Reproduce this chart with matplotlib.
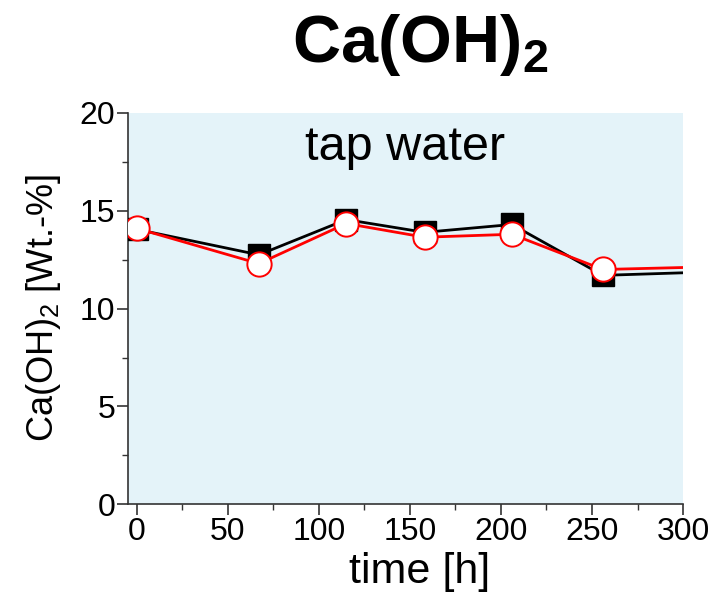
import numpy as np
import matplotlib
matplotlib.use("Agg")
import matplotlib.pyplot as plt
from matplotlib.ticker import MultipleLocator

plt.rcParams['font.family'] = ['Liberation Sans', 'DejaVu Sans']
plt.rcParams['mathtext.fontset'] = 'custom'
plt.rcParams['mathtext.rm'] = 'Liberation Sans'
plt.rcParams['mathtext.it'] = 'Liberation Sans:italic'
plt.rcParams['mathtext.bf'] = 'Liberation Sans:bold'

## data (last point lies outside the x range)
time_h = [0, 67, 115, 158, 206, 256, 330]
caoh2_black = [14.05, 12.75, 14.55, 13.9, 14.3, 11.7, 11.92]
caoh2_red = [14.1, 12.3, 14.35, 13.65, 13.8, 12.0, 12.17]

fig = plt.figure(figsize=(7.1, 6.01), dpi=100)
ax = fig.add_axes([0.180, 0.161, 0.782, 0.651])
ax.set_facecolor('#e4f3f9')

ax.plot(time_h, caoh2_black, color='black', lw=2, marker='s', ms=16.5,
        mfc='black', mec='black', zorder=3)
ax.plot(time_h, caoh2_red, color='red', lw=2, marker='o', ms=17.5,
        mfc='white', mec='red', mew=1.4, zorder=4)

ax.set_xlim(-5, 300)
ax.set_ylim(0, 20)
ax.xaxis.set_major_locator(MultipleLocator(50))
ax.xaxis.set_minor_locator(MultipleLocator(25))
ax.yaxis.set_major_locator(MultipleLocator(5))
ax.yaxis.set_minor_locator(MultipleLocator(2.5))

for s in ['top', 'right']:
    ax.spines[s].set_visible(False)
for s in ['left', 'bottom']:
    ax.spines[s].set_color('#333333')
    ax.spines[s].set_linewidth(1.2)

ax.tick_params(which='major', direction='out', length=8, width=1.2, color='#333333',
               labelsize=23, pad=1)
ax.tick_params(which='minor', direction='out', length=4, width=1.0, color='#333333')

ax.set_xlabel('time [h]', fontsize=31)
ax.xaxis.set_label_coords(0.526, -0.123, transform=ax.transAxes)
ax.xaxis.label.set_va('top')
ax.set_ylabel('Ca(OH)$_2$ [Wt.-%]', fontsize=26, labelpad=12)

ax.text(0.5, 0.97, 'tap water', transform=ax.transAxes, ha='center', va='top',
        fontsize=35)
fig.text(0.592, 0.925, r'$\mathbf{Ca(OH)_2}$', ha='center', va='center', fontsize=48)

fig.savefig('out.png', dpi=100)
